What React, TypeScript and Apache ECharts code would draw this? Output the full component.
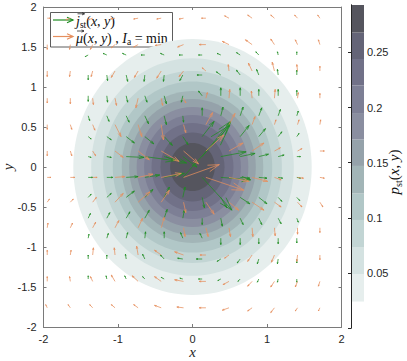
import React, { useEffect, useRef } from "react";
import * as echarts from "echarts";

// contour levels of p_st and the radius (in x/y units) of each level curve
const pLevels = [0.024, 0.049, 0.073, 0.098, 0.122, 0.147, 0.171, 0.195, 0.22, 0.244, 0.268];
const levelRadii = [1.6, 1.36, 1.2, 1.07, 0.95, 0.85, 0.75, 0.65, 0.55, 0.43, 0.3];
const pMax = 0.293;
const colorbarTicks = [0.05, 0.1, 0.15, 0.2, 0.25];

// orange field mu(x,y): grid and drawn vectors
const muX = [-1.95, -1.64, -1.34, -1.04, -0.73, -0.42, -0.12, 0.18, 0.49, 0.8, 1.1, 1.41, 1.71];
const muY = [1.86, 1.53, 1.2, 0.86, 0.53, 0.2, -0.13, -0.44, -0.76, -1.1, -1.43, -1.76];
const muU = [
  [0.04, -0.06, -0.06, -0.06, -0.06, -0.06, -0.06, -0.06, -0.06, -0.06, -0.05, -0.04, -0.03],
  [0, -0.01, -0.03, -0.05, -0.06, -0.08, -0.08, -0.09, -0.09, -0.09, -0.05, -0.03, -0.02],
  [0, -0.01, -0.02, -0.05, -0.05, -0.06, -0.06, -0.05, -0.01, -0.05, -0.03, -0.01, 0],
  [0, 0, 0.01, 0.02, -0.03, 0.02, 0.03, 0.02, 0.01, -0.01, 0.01, 0.01, 0],
  [0, 0.02, 0.03, 0.08, 0.05, 0.03, 0.03, 0.09, 0.08, 0.04, 0.02, 0.02, 0.01],
  [0, 0.02, 0.04, 0.11, 0.15, 0.24, 0.2, 0.24, 0.19, 0.16, 0.08, 0.06, 0.06],
  [0.05, 0.06, 0.06, 0.13, 0.2, 0.27, 0.48, 0.51, 0.27, 0.21, 0.09, 0.08, 0.06],
  [0.03, 0.04, 0.05, 0.11, 0.16, 0.11, 0.03, 0.11, 0.13, 0.16, 0.09, 0.06, 0.04],
  [0.01, 0.03, 0.04, 0.05, 0.06, 0.04, 0.02, 0.03, 0.02, 0.01, 0.01, 0, 0],
  [0, 0.01, 0.01, -0.01, -0.02, -0.09, -0.12, -0.08, -0.06, -0.06, -0.04, -0.01, 0],
  [0, -0.01, -0.03, -0.05, -0.08, -0.09, -0.12, -0.09, -0.08, -0.06, -0.05, -0.03, -0.02],
  [-0.02, -0.03, -0.04, -0.05, -0.06, -0.09, -0.09, -0.09, -0.09, -0.06, -0.05, -0.03, -0.02],
];
const muV = [
  [0, -0.02, -0.02, -0.01, -0.01, -0.01, -0.01, 0, 0.03, 0.04, 0.04, 0.04, 0.04],
  [-0.06, -0.06, -0.06, -0.04, -0.03, -0.01, -0.03, 0, 0.04, 0.06, 0.07, 0.06, 0.06],
  [-0.07, -0.07, -0.07, -0.08, -0.08, -0.09, -0.07, 0.04, 0.08, 0.1, 0.11, 0.08, 0.06],
  [-0.06, -0.07, -0.08, -0.09, -0.12, -0.09, -0.06, 0.07, 0.11, 0.09, 0.11, 0.07, 0.06],
  [-0.06, -0.06, -0.07, -0.15, -0.15, -0.19, -0.1, 0.15, 0.14, 0.1, 0.06, 0.06, 0.06],
  [-0.06, -0.06, -0.06, -0.08, -0.11, -0.13, -0.16, 0.2, 0.1, 0.1, 0.04, 0.03, 0],
  [0, 0, 0, 0.01, 0.04, 0.05, 0.16, -0.16, -0.05, -0.05, -0.03, -0.01, -0.01],
  [0.04, 0.04, 0.06, 0.11, 0.13, 0.15, -0.13, -0.15, -0.1, -0.1, -0.06, -0.06, -0.06],
  [0.06, 0.06, 0.07, 0.09, 0.12, 0.13, -0.11, -0.11, -0.11, -0.11, -0.1, -0.08, -0.06],
  [0.06, 0.06, 0.09, 0.09, 0.11, 0.06, 0.04, 0, -0.04, -0.08, -0.09, -0.08, -0.06],
  [0.06, 0.06, 0.06, 0.08, 0.07, 0.06, 0.02, 0, -0.04, -0.06, -0.07, -0.07, -0.06],
  [0.04, 0.04, 0.04, 0.04, 0.04, 0.03, 0.01, 0, -0.03, -0.04, -0.06, -0.04, -0.04],
];

// green field j_st(x,y): grid and drawn vectors
const jX = [-1.4, -1.15, -0.89, -0.64, -0.38, -0.13, 0.13, 0.38, 0.64, 0.89, 1.15, 1.4];
const jY = [1.4, 1.15, 0.89, 0.64, 0.38, 0.13, -0.13, -0.38, -0.64, -0.89, -1.15, -1.4];
const jU = [
  [-0.04, -0.05, -0.05, -0.05, -0.05, -0.05, -0.05, -0.05, -0.05, -0.04, -0.01, 0],
  [0, 0.01, 0.02, -0.01, -0.01, -0.04, -0.07, -0.06, -0.05, -0.03, -0.01, 0],
  [0, 0.01, 0.02, 0.03, 0.03, -0.02, -0.05, 0, 0, 0, 0, 0],
  [0.02, 0.03, 0.04, 0.05, 0.03, 0.01, 0, 0.03, 0.04, 0.04, 0.03, 0.02],
  [0.04, 0.06, 0.11, 0.12, 0.11, 0.07, 0.16, 0.13, 0.12, 0.09, 0.05, 0.03],
  [0.04, 0.06, 0.24, 0.4, 0.3, 0.19, 0.38, 0.34, 0.2, 0.13, 0.08, 0.05],
  [0.06, 0.08, 0.16, 0.2, 0.27, 0.63, 0.4, 0.4, 0.13, 0.11, 0.06, 0.05],
  [0.04, 0.06, 0.11, 0.11, 0.07, 0.03, 0.03, 0.08, 0.13, 0.11, 0.05, 0.04],
  [0.03, 0.04, 0.05, 0.06, 0.04, 0.02, 0, 0.02, 0.04, 0.04, 0.04, 0.02],
  [0.01, 0.02, 0.02, 0.01, 0, -0.03, -0.03, 0, 0, 0, 0, 0],
  [0, 0, -0.01, -0.03, -0.05, -0.07, -0.08, -0.05, -0.04, -0.02, -0.01, 0],
  [0, -0.01, -0.02, -0.03, -0.04, -0.04, -0.05, -0.04, -0.03, -0.02, -0.01, 0],
];
const jV = [
  [-0.02, 0.02, 0.02, 0, 0.02, 0, 0, 0.02, 0.03, 0.04, 0.04, 0.04],
  [-0.06, -0.07, -0.08, -0.08, -0.08, -0.07, 0, 0.04, 0.06, 0.07, 0.07, 0.06],
  [-0.07, -0.08, -0.08, -0.08, -0.1, -0.08, 0.06, 0.1, 0.1, 0.08, 0.08, 0.07],
  [-0.06, -0.07, -0.08, -0.1, -0.11, -0.08, 0.1, 0.11, 0.11, 0.1, 0.08, 0.06],
  [-0.03, -0.04, -0.08, -0.09, -0.11, -0.1, 0.19, 0.18, 0.14, 0.1, 0.06, 0.04],
  [-0.01, -0.01, -0.01, -0.05, -0.08, -0.13, 0.44, 0.06, 0.04, 0.03, 0.02, 0],
  [0, 0, 0.01, 0.03, 0.05, 0.65, -0.41, -0.03, -0.01, -0.01, -0.01, -0.01],
  [0.04, 0.05, 0.08, 0.1, 0.13, 0.13, -0.13, -0.13, -0.08, -0.08, -0.05, -0.04],
  [0.06, 0.07, 0.08, 0.1, 0.11, 0.1, -0.08, -0.1, -0.08, -0.08, -0.07, -0.05],
  [0.05, 0.06, 0.07, 0.08, 0.08, 0.07, 0.06, -0.08, -0.08, -0.07, -0.07, -0.06],
  [0.05, 0.05, 0.06, 0.06, 0.05, 0.01, 0, -0.03, -0.05, -0.06, -0.06, -0.05],
  [0.04, 0.04, 0.04, 0.03, 0.02, 0.01, 0, -0.02, -0.03, -0.04, -0.04, -0.04],
];

// styles
const bandColors = [
  "#ffffff", "#e6eeed", "#d4e2e1", "#c2d5d4", "#b1c7c7", "#a2b5b7", "#95a2aa",
  "#8a8ea0", "#7d7f95", "#717188", "#646477", "#55555e",
];
const GREEN = "#1f8c22";
const ORANGE = "#e58f5e";
const AXIS = "#7a7a7a";
const TEXT = "#262626";
const MATH = "'Liberation Serif', 'DejaVu Serif', serif";
const SANS = "'Liberation Sans', Arial, sans-serif";

function buildQuiver(xs: number[], ys: number[], U: number[][], V: number[][]) {
  const out: number[][] = [];
  ys.forEach((y, r) => xs.forEach((x, c) => out.push([x, y, U[r][c], V[r][c]])));
  return out;
}

function arrowRender(color: string) {
  return (params: any, api: any) => {
    const x = api.value(0), y = api.value(1), u = api.value(2), v = api.value(3);
    const p0 = api.coord([x, y]);
    const p1 = api.coord([x + u, y + v]);
    const dx = p1[0] - p0[0], dy = p1[1] - p0[1];
    if (Math.hypot(dx, dy) < 0.3) return null;
    const a = 0.3, b = 0.3;
    const l = [p1[0] - a * (dx + b * dy), p1[1] - a * (dy - b * dx)];
    const rr = [p1[0] - a * (dx - b * dy), p1[1] - a * (dy + b * dx)];
    return {
      type: "group",
      children: [
        { type: "line", shape: { x1: p0[0], y1: p0[1], x2: p1[0], y2: p1[1] }, style: { stroke: color, lineWidth: 0.75 } },
        { type: "polyline", shape: { points: [l, p1, rr] }, style: { stroke: color, fill: null, lineWidth: 0.75 } },
      ],
    };
  };
}

function smallArrow(x1: number, x2: number, y: number, color: string, w: number, head: number) {
  return [
    { type: "line", shape: { x1, y1: y, x2, y2: y }, style: { stroke: color, lineWidth: w } },
    { type: "polyline", shape: { points: [[x2 - head, y - head * 0.45], [x2, y], [x2 - head, y + head * 0.45]] }, style: { stroke: color, fill: null, lineWidth: w } },
  ];
}

const richMath = (size: number) => ({
  i: { fontFamily: MATH, fontStyle: "italic", fontSize: size, lineHeight: 18, fill: "#111" },
  r: { fontFamily: MATH, fontSize: size, lineHeight: 18, fill: "#111" },
  s: { fontFamily: MATH, fontSize: size * 0.68, lineHeight: 12, verticalAlign: "bottom", fill: "#111" },
});

export default function App() {
  const ref = useRef<HTMLDivElement>(null);
  useEffect(() => {
    if (!ref.current) return;
    const chart = echarts.init(ref.current, undefined, { renderer: "svg" });
    const axisLine = { show: true, onZero: false, lineStyle: { color: AXIS, width: 1 } };
    const tick = { show: true, inside: true, length: 3, lineStyle: { color: AXIS } };
    const bands = bandColors.map((c, i) => [i === 0 ? 0 : pLevels[i - 1], i < pLevels.length ? pLevels[i] : pMax, i]);
    const contour = levelRadii.map((r, i) => [r, pLevels[i], i + 1]);
    const option: any = {
      animation: false,
      grid: [
        { left: 43.5, top: 7, width: 298, height: 320 },
        { left: 351, top: 5, width: 13, height: 323 },
      ],
      xAxis: [
        {
          gridIndex: 0, type: "value", min: -2, max: 2, interval: 1, position: "bottom", z: 10,
          axisLine, axisTick: tick, splitLine: { show: false },
          axisLabel: { color: TEXT, fontSize: 11, fontFamily: SANS, margin: 6 },
        },
        {
          gridIndex: 0, type: "value", min: -2, max: 2, interval: 1, position: "top", z: 10,
          axisLine, axisTick: tick, splitLine: { show: false }, axisLabel: { show: false },
        },
        { gridIndex: 1, type: "value", min: 0, max: 1, show: false },
      ],
      yAxis: [
        {
          gridIndex: 0, type: "value", min: -2, max: 2, interval: 0.5, position: "left", z: 10,
          axisLine, axisTick: tick, splitLine: { show: false },
          axisLabel: { color: TEXT, fontSize: 11, fontFamily: SANS, margin: 7 },
        },
        {
          gridIndex: 0, type: "value", min: -2, max: 2, interval: 0.5, position: "right", z: 10,
          axisLine, axisTick: tick, splitLine: { show: false }, axisLabel: { show: false },
        },
        {
          gridIndex: 1, type: "value", min: 0, max: pMax, interval: 0.05, position: "right", z: 10,
          axisLine: { show: true, lineStyle: { color: TEXT } },
          axisTick: { show: true, inside: true, length: 3, lineStyle: { color: TEXT } },
          splitLine: { show: false },
          axisLabel: {
            color: TEXT, fontSize: 11, fontFamily: SANS, margin: 3, showMaxLabel: false,
            formatter: (v: number) => (colorbarTicks.some((t) => Math.abs(t - v) < 1e-6) ? String(+v.toFixed(2)) : ""),
          },
        },
        {
          gridIndex: 1, type: "value", min: 0, max: pMax, position: "left", z: 10,
          axisLine: { show: true, lineStyle: { color: TEXT } }, axisTick: { show: false },
          axisLabel: { show: false }, splitLine: { show: false },
        },
      ],
      series: [
        {
          type: "custom", xAxisIndex: 0, yAxisIndex: 0, z: 1, data: contour, silent: true,
          renderItem: (params: any, api: any) => {
            const r = api.value(0);
            const idx = api.value(2);
            const c = api.coord([0, 0]);
            const px = api.coord([r, 0]);
            const py = api.coord([0, r]);
            return {
              type: "ellipse",
              shape: { cx: c[0], cy: c[1], rx: px[0] - c[0], ry: c[1] - py[1] },
              style: { fill: bandColors[idx], stroke: null },
            };
          },
        },
        {
          type: "custom", xAxisIndex: 0, yAxisIndex: 0, z: 3, silent: true,
          data: buildQuiver(jX, jY, jU, jV), renderItem: arrowRender(GREEN),
        },
        {
          type: "custom", xAxisIndex: 0, yAxisIndex: 0, z: 4, silent: true,
          data: buildQuiver(muX, muY, muU, muV), renderItem: arrowRender(ORANGE),
        },
        {
          type: "custom", xAxisIndex: 2, yAxisIndex: 2, z: 1, data: bands, silent: true,
          renderItem: (params: any, api: any) => {
            const lo = api.coord([0, api.value(0)]);
            const hi = api.coord([1, api.value(1)]);
            return {
              type: "rect",
              shape: { x: lo[0], y: hi[1], width: hi[0] - lo[0], height: lo[1] - hi[1] },
              style: { fill: bandColors[api.value(2)], stroke: null },
            };
          },
        },
      ],
      graphic: [
        {
          type: "group", z: 100,
          children: [
            { type: "rect", shape: { x: 50.5, y: 12.5, width: 122, height: 34.5 }, style: { fill: "#ffffff", stroke: "#333333", lineWidth: 0.8 } },
            ...smallArrow(53, 73, 20, GREEN, 1.2, 6),
            ...smallArrow(53, 73, 36.5, ORANGE, 1.2, 6),
            ...smallArrow(77.5, 84.5, 13.8, "#111", 0.7, 2.5),
            ...smallArrow(77, 84, 31, "#111", 0.7, 2.5),
            {
              type: "text", x: 76, y: 21,
              style: { text: "{i|j}{s|st}{r|(}{i|x}{r|, }{i|y}{r|)}", verticalAlign: "middle", rich: richMath(14) },
            },
            {
              type: "text", x: 76, y: 38,
              style: { text: "{i|\u03BC}{r|(}{i|x}{r|, }{i|y}{r|) , }{i|I}{s|a}{r| = min}", verticalAlign: "middle", rich: richMath(14) },
            },
          ],
        },
        {
          type: "text", x: 192.5, y: 352, z: 100,
          style: { text: "x", fontFamily: MATH, fontStyle: "italic", fontSize: 15, fill: TEXT, align: "center", verticalAlign: "middle" },
        },
        {
          type: "text", x: 8, y: 167, rotation: Math.PI / 2, z: 100,
          style: { text: "y", fontFamily: MATH, fontStyle: "italic", fontSize: 15, fill: TEXT, align: "center", verticalAlign: "middle" },
        },
        {
          type: "text", x: 394, y: 172, rotation: Math.PI / 2, z: 100,
          style: { text: "{i|p}{s|st}{r|(}{i|x}{r|, }{i|y}{r|)}", align: "center", verticalAlign: "middle", rich: richMath(15) },
        },
      ],
    };
    chart.setOption(option);
    return () => chart.dispose();
  }, []);
  return <div ref={ref} style={{ width: 407, height: 361, position: "absolute", left: 0, top: 0 }} />;
}
